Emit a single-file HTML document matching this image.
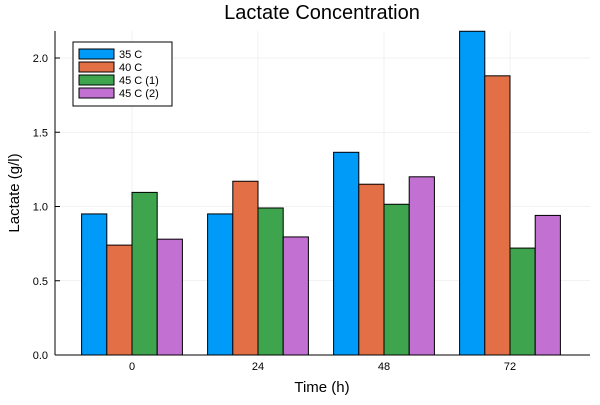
<!DOCTYPE html>
<html><head><meta charset="utf-8"><style>
body{margin:0;background:#fff;}
svg text{font-family:"Liberation Sans",sans-serif;fill:#000;}
</style></head><body>
<svg id="chart" width="600" height="400" xmlns="http://www.w3.org/2000/svg">
<rect width="600" height="400" fill="#fff"/>
<text x="322" y="19" font-size="20" text-anchor="middle">Lactate Concentration</text>
<g id="grid"></g>
<g id="bars"></g>
<g id="axes"></g>
<g id="legend"></g>
<text x="322" y="392" font-size="15" text-anchor="middle">Time (h)</text>
<text x="19" y="193" font-size="15" text-anchor="middle" transform="rotate(-90 19 193)">Lactate (g/l)</text>
</svg>
<script>
const categories = ["0","24","48","72"];
const seriesNames = ["35 C","40 C","45 C (1)","45 C (2)"];
const s35 = [0.95, 0.95, 1.365, 2.18];
const s40 = [0.74, 1.17, 1.15, 1.88];
const s45a = [1.095, 0.99, 1.015, 0.72];
const s45b = [0.78, 0.795, 1.2, 0.94];
const yTicks = [0, 0.5, 1.0, 1.5, 2.0];
const yTickLabels = ["0.0","0.5","1.0","1.5","2.0"];

const series = [s35, s40, s45a, s45b];
const colors = ["#009af9","#e26f46","#3ea44e","#c271d2"];
const NS = "http://www.w3.org/2000/svg";
const L = 55, R = 590, T = 31, B = 355, yMax = (355-31)/148.5;
function yS(v){ return B - v/yMax*(B-T); }
function xS(i){ return 132 + i*126; }
function mk(tag, attrs, parent){
  const e = document.createElementNS(NS, tag);
  for (const k in attrs) e.setAttribute(k, attrs[k]);
  document.getElementById(parent).appendChild(e);
  return e;
}
yTicks.forEach((v,i)=>{
  const g = mk("line",{x1:L,x2:R,y1:yS(v),y2:yS(v),stroke:"#000","stroke-opacity":0.1,"stroke-width":0.5},"grid");
  
  
  const t = mk("text",{x:L-7,y:yS(v)+4,"font-size":11,"text-anchor":"end"},"axes");
  t.textContent = yTickLabels[i];
  
  
  mk("line",{x1:L,x2:L+5,y1:yS(v),y2:yS(v),stroke:"#000","stroke-width":1},"axes");
});
categories.forEach((c,i)=>{
  const g = mk("line",{x1:xS(i),x2:xS(i),y1:T,y2:B,stroke:"#000","stroke-opacity":0.1,"stroke-width":0.5},"grid");
  
  
  const t = mk("text",{x:xS(i),y:B+15,"font-size":11,"text-anchor":"middle"},"axes");
  t.textContent = c;
  
  
  mk("line",{x1:xS(i),x2:xS(i),y1:B,y2:B-5,stroke:"#000","stroke-width":1},"axes");
});
const bw = 25.2;
series.forEach((s,si)=>{
  s.forEach((v,i)=>{
    const x = xS(i) - 2*bw + si*bw;
    const yt = Math.max(yS(v), T);
    const r = mk("rect",{x:x,y:yt,width:bw,height:B-yt,fill:colors[si],stroke:"#000","stroke-width":1},"bars");
    
    
  });
});
const ax1 = mk("line",{x1:L,x2:L,y1:T,y2:B,stroke:"#000","stroke-width":1},"axes");


const ax2 = mk("line",{x1:L,x2:R,y1:B,y2:B,stroke:"#000","stroke-width":1},"axes");


const lb = mk("rect",{x:73,y:42,width:99,height:64,fill:"#fff",stroke:"#000","stroke-width":1},"legend");


seriesNames.forEach((n,i)=>{
  const y = 49 + i*13;
  const sw = mk("rect",{x:79,y:y,width:35,height:10,fill:colors[i],stroke:"#000","stroke-width":1},"legend");
  
  
  const t = mk("text",{x:119,y:y+9,"font-size":11},"legend");
  t.textContent = n;
  
  
});
</script>
</body></html>
